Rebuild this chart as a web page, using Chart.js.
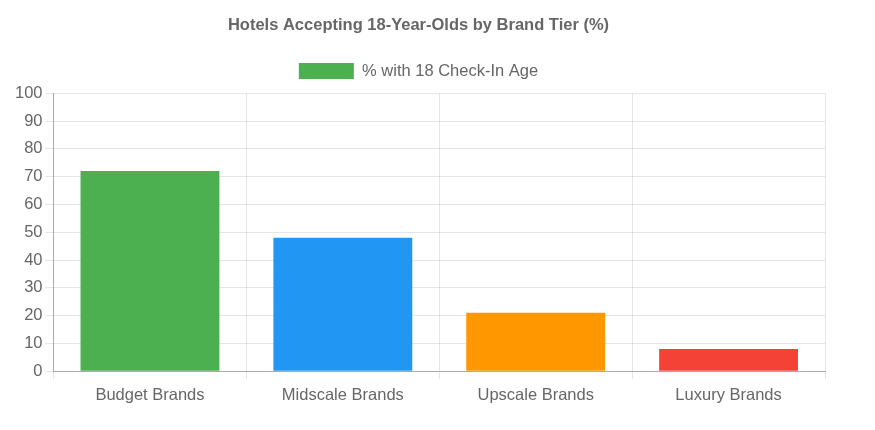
<!DOCTYPE html>
<html>
<head>
<meta charset="utf-8">
<script src="https://cdn.jsdelivr.net/npm/chart.js@4"></script>
<style>
  body { margin: 0; background: #fff; font-family: "Liberation Sans", Arial, sans-serif; }
  #wrap { width: 875px; height: 411px; }
</style>
</head>
<body>
<div id="wrap"><canvas id="graficoMarcas"></canvas></div>
<script>
// datos
const categorias = ["Budget Brands", "Midscale Brands", "Upscale Brands", "Luxury Brands"];
const porcentajes = [72, 48, 21, 8];
const colores = ["#4CAF50", "#2196F3", "#FF9800", "#F44336"];

Chart.defaults.font.family = '"Liberation Sans", Arial, sans-serif';
Chart.defaults.color = "#666";

// un poco más de espacio bajo la leyenda
const espacioLeyenda = {
  id: "espacioLeyenda",
  beforeInit(chart) {
    const fitOriginal = chart.legend.fit;
    chart.legend.fit = function () {
      fitOriginal.call(this);
      this.height += 4;
    };
  }
};

new Chart(document.getElementById("graficoMarcas"), {
  type: "bar",
  data: {
    labels: categorias,
    datasets: [{
      label: "% with 18 Check-In Age",
      data: porcentajes,
      backgroundColor: colores
    }]
  },
  options: {
    responsive: true,
    maintainAspectRatio: false,
    animation: false,
    layout: { padding: { left: 12, right: 50, top: 10 } },
    plugins: {
      title: {
        display: true,
        text: "Hotels Accepting 18-Year-Olds by Brand Tier (%)",
        font: { size: 16.5, weight: "bold" },
        padding: { top: 6, bottom: 14 }
      },
      legend: {
        position: "top",
        labels: { boxWidth: 55, boxHeight: 16, padding: 13, font: { size: 16.5 } }
      }
    },
    scales: {
      y: {
        beginAtZero: true,
        max: 100,
        border: { color: "#aaa" },
        ticks: { stepSize: 10, font: { size: 16.5 } }
      },
      x: {
        border: { color: "#aaa" },
        ticks: { font: { size: 16.5 }, padding: 6 }
      }
    }
  },
  plugins: [espacioLeyenda]
});
</script>
</body>
</html>
